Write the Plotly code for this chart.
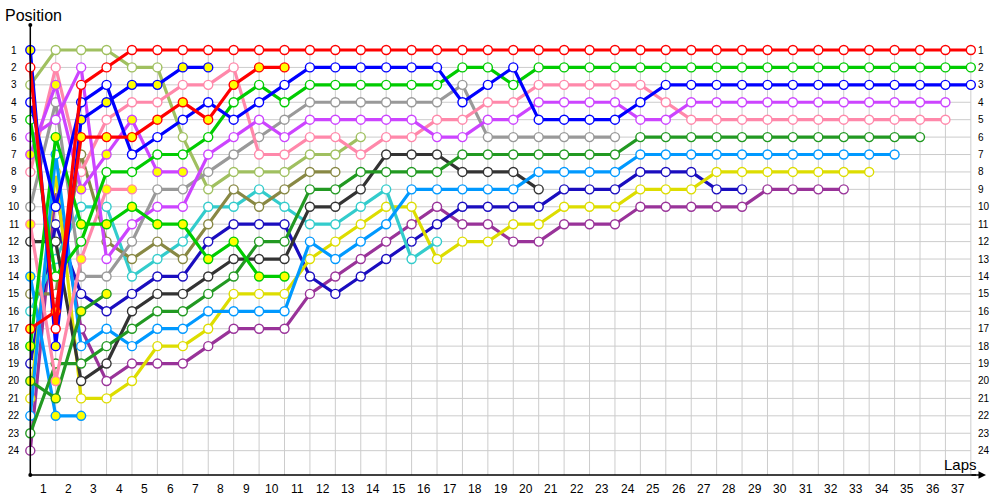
import plotly.graph_objects as go

# ---------------- data (positions by lap, starting at lap 0 = grid) -------------
laps = list(range(0, 38))
lap_tick_labels = [str(i) for i in range(1, 38)]
position_labels = [str(i) for i in range(1, 25)]

red_a = [2, 17, 3, 2] + [1] * 34
red_b = [17, 16, 6, 6, 6, 5, 4, 5, 3, 2, 2]
green_a = [5, 14, 12, 8, 8, 7, 7, 6, 4, 3, 4, 3, 3, 3, 3, 3, 3, 2, 2, 3] + [2] * 18
green_b = [18, 6, 11, 11, 10, 11, 11, 13, 12, 14, 14]
blue_a = [4, 10, 4, 3, 7, 6, 5, 4, 5, 4, 3, 2, 2, 2, 2, 2, 2, 4, 3, 2, 5, 5, 5, 5, 4] + [3] * 13
blue_b = [1, 18, 5, 4, 3, 3, 2, 2]
violet_a = [6, 5, 2, 13, 11, 10, 10, 7, 6, 5, 6, 5, 5, 5, 5, 5, 6, 6, 5, 5, 4, 4, 4, 4, 5, 5] + [4] * 11
violet_b = [7, 3, 9, 7, 5, 8, 8]
pink_a = [8, 2, 8, 5, 4, 4, 3, 3, 2, 7, 7, 6, 6, 7, 6, 6, 5, 5, 4, 4, 3, 3, 3, 3, 3, 4] + [5] * 11
pink_b = [11, 20, 13, 9, 9]
dkgreen_a = [23, 19, 19, 18, 17, 16, 16, 15, 14, 12, 12, 9, 9, 8, 8, 8, 8, 7, 7, 7, 7, 7, 7, 7] + [6] * 12
dkgreen_b = [20, 21, 16, 15]
ltblue_a = [22, 7, 18, 17, 18, 17, 17, 16, 16, 16, 16, 12, 13, 12, 11, 9, 9, 9, 9, 9, 8, 8, 8, 8] + [7] * 11
ltblue_b = [14, 22, 22]
yellow_a = [21, 8, 21, 21, 20, 18, 18, 17, 15, 15, 15, 13, 12, 11, 10, 10, 13, 12, 12, 11, 11, 10, 10, 10, 9, 9, 9] + [8] * 7
indigo_a = [19, 11, 15, 16, 15, 14, 14, 12, 11, 11, 11, 14, 15, 14, 13, 12, 11, 10, 10, 10, 10, 9, 9, 9, 8, 8, 8, 9, 9]
purple_a = [24, 9, 17, 20, 19, 19, 19, 18, 17, 17, 17, 15, 14, 13, 12, 11, 10, 11, 11, 12, 12, 11, 11, 11, 10, 10, 10, 10, 10, 9, 9, 9, 9]
gray_a = [10, 4, 14, 14, 12, 9, 9, 8, 7, 6, 5, 4, 4, 4, 4, 4, 4, 3, 6, 6, 6, 6, 6, 6]
ltgreen_a = [3, 1, 1, 1, 2, 2, 6, 9, 8, 8, 8, 7, 7, 6]
black_a = [12, 12, 20, 19, 16, 15, 15, 14, 13, 13, 13, 10, 10, 9, 7, 7, 7, 8, 8, 8, 9]
olive_a = [15, 15, 7, 12, 13, 12, 13, 11, 9, 10, 9, 8, 8]
cyan_a = [16, 13, 10, 10, 14, 13, 12, 10, 10, 9, 10, 11, 11, 10, 9, 13, 12]

# (series, line colour, marker fill) - drawn in this order
series = [
    (purple_a, "#993399", "white"),
    (indigo_a, "#1a0dbf", "white"),
    (yellow_a, "#dddd00", "white"),
    (cyan_a, "#33cccc", "white"),
    (olive_a, "#888844", "white"),
    (black_a, "#333333", "white"),
    (ltgreen_a, "#a0c060", "white"),
    (gray_a, "#999999", "white"),
    (ltblue_b, "#0099ff", "#ffff00"),
    (ltblue_a, "#0099ff", "white"),
    (dkgreen_b, "#229922", "#ffff00"),
    (dkgreen_a, "#229922", "white"),
    (pink_b, "#ff88aa", "#ffff00"),
    (pink_a, "#ff88aa", "white"),
    (violet_b, "#cc44ff", "#ffff00"),
    (violet_a, "#cc44ff", "white"),
    (green_b, "#00cc00", "#ffff00"),
    (green_a, "#00cc00", "white"),
    (blue_b, "#0000ff", "#ffff00"),
    (blue_a, "#0000ff", "white"),
    (red_b, "#ff0000", "#ffff00"),
    (red_a, "#ff0000", "white"),
]

# ---------------- pixel geometry helpers (screen pixels) ----------------
W, H = 1000, 500
X0PX, DX = 30.3, 25.42      # pixel of lap 0, pixels per lap
Y1PX, DY = 50.0, 17.42      # pixel of position 1, pixels per position


def lx(px):
    return (px - X0PX) / DX


def py(px):
    return 1 + (px - Y1PX) / DY


fig = go.Figure()

for data, color, fill in series:
    fig.add_trace(go.Scatter(
        x=laps[:len(data)], y=data, mode="lines+markers",
        line=dict(color=color, width=3.2),
        marker=dict(size=9, color=fill, line=dict(color=color, width=1.4)),
        cliponaxis=False, showlegend=False, hoverinfo="skip"))

shapes = []
grid = "#cccccc"
for lp in laps:
    shapes.append(dict(type="line", xref="x", yref="y", x0=lp, x1=lp,
                       y0=0.8, y1=py(475), line=dict(color=grid, width=1), layer="below"))
for p in range(1, 25):
    shapes.append(dict(type="line", xref="x", yref="y", x0=0, x1=37,
                       y0=p, y1=p, line=dict(color=grid, width=1), layer="below"))
# axes
shapes.append(dict(type="line", xref="x", yref="y", x0=0, x1=0, y0=py(25), y1=py(475),
                   line=dict(color="black", width=1.5)))
shapes.append(dict(type="line", xref="x", yref="y", x0=0, x1=lx(976), y0=py(475), y1=py(475),
                   line=dict(color="black", width=1.5)))
for cy in (25, 475):
    shapes.append(dict(type="circle", xref="x", yref="y",
                       x0=lx(X0PX - 2), x1=lx(X0PX + 2), y0=py(cy - 2), y1=py(cy + 2),
                       fillcolor="black", line=dict(color="black", width=0)))

annotations = []
font = "Liberation Sans"
for i, t in enumerate(lap_tick_labels):
    annotations.append(dict(x=i + 0.5, y=py(489), text=t, showarrow=False,
                            xanchor="center", yanchor="middle",
                            font=dict(family=font, size=12, color="black")))
for i, t in enumerate(position_labels):
    annotations.append(dict(x=lx(14), y=i + 1, text=t, showarrow=False,
                            xanchor="center", yanchor="middle",
                            font=dict(family=font, size=10, color="black")))
    annotations.append(dict(x=lx(976), y=i + 1, text=t, showarrow=False,
                            xanchor="left", yanchor="middle",
                            font=dict(family=font, size=10, color="black")))
annotations.append(dict(x=3 / W, y=1 - 15 / H, xref="paper", yref="paper", text="Position",
                        showarrow=False, xanchor="left", yanchor="middle",
                        font=dict(family=font, size=16, color="black")))
annotations.append(dict(x=lx(942), y=py(464), text="Laps", showarrow=False,
                        xanchor="left", yanchor="middle",
                        font=dict(family=font, size=15, color="black")))
# arrow head on the x axis
annotations.append(dict(x=lx(986), y=py(475), ax=lx(970), ay=py(475),
                        axref="x", ayref="y", text="", showarrow=True,
                        arrowhead=2, arrowsize=1, arrowwidth=1.5, arrowcolor="black"))

fig.update_layout(
    width=W, height=H, margin=dict(l=0, r=0, t=0, b=0),
    paper_bgcolor="white", plot_bgcolor="white",
    xaxis=dict(range=[lx(0), lx(W)], visible=False, fixedrange=True),
    yaxis=dict(range=[py(H), py(0)], visible=False, fixedrange=True),
    shapes=shapes, annotations=annotations, showlegend=False,
)

# remove the default page margin so the figure sits at the window's top-left corner
fig.write_html("out.html", config={"displayModeBar": False},
               post_script="document.body.style.margin='0';")
